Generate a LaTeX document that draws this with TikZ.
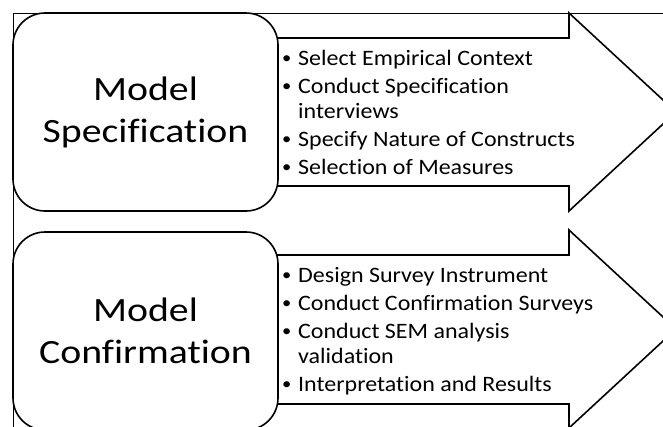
\documentclass[tikz,border=0pt]{standalone}
\usepackage{fontspec}
\setmainfont{Carlito}
\newfontfamily\phasefont[FakeStretch=1.17, Ligatures=NoCommon]{Carlito}
\newfontfamily\taskfont[FakeStretch=1.09, Ligatures=NoCommon]{Carlito}
\usetikzlibrary{positioning}
\newcommand{\bul}{\makebox[16pt][l]{\raisebox{2pt}{\fontsize{17}{17}\selectfont\textbullet}}}
\newcommand{\cont}{\makebox[16pt]{}}
\begin{document}
\begin{tikzpicture}[x=1pt, y=-1pt, line join=miter,
    phase/.style={draw, line width=1.6pt, fill=white, rounded corners=32pt, minimum width=265pt, minimum height=198pt, inner sep=0pt, align=center, font=\phasefont\fontsize{34}{42}\selectfont},
    bigarrow/.style={draw, line width=1.6pt, fill=white},
    tasks/.style={inner sep=0pt, align=left, font=\taskfont\fontsize{22}{25}\selectfont}]
  \useasboundingbox (0,0) rectangle (663,426);
  \clip (0,0) rectangle (663,426);
  % frame
  \draw[line width=1pt] (13,430) -- (13,13) -- (663,13);
  % arrows
  \draw[bigarrow] (200,38) -- (569,38) -- (569,13) -- (676,112) -- (569,211) -- (569,186) -- (200,186) -- cycle;
  \draw[bigarrow] (200,255) -- (569,255) -- (569,230) -- (676,329) -- (569,428) -- (569,404) -- (200,404) -- cycle;
  % phases
  \node[phase] (spec) at (145.5,112) {Model\\Specification};
  \node[phase] (conf) at (145.5,331) {Model\\Confirmation};
  \node[tasks, anchor=west] (spectasks) at (282,112) {\bul Select Empirical Context\\[3pt]
    \bul Conduct Specification\\ \cont interviews\\[3pt]
    \bul Specify Nature of Constructs\\[3pt]
    \bul Selection of Measures};
  \node[tasks, anchor=west] (conftasks) at (282,331) {\bul Design Survey Instrument\\[3pt]
    \bul Conduct Confirmation Surveys\\[3pt]
    \bul Conduct SEM analysis\\ \cont validation\\[3pt]
    \bul Interpretation and Results};
\end{tikzpicture}
\end{document}
